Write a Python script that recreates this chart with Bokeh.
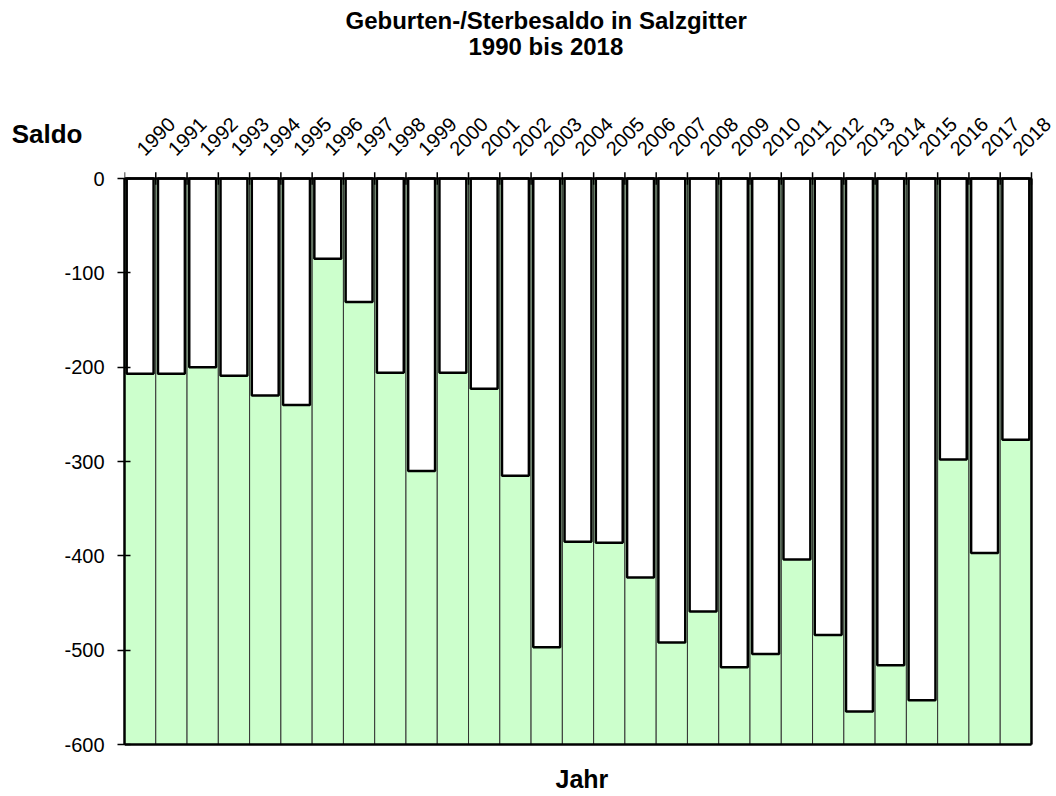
import math
from bokeh.plotting import figure
from bokeh.models import Range1d, FixedTicker, Title, LinearAxis
from bokeh.core.properties import value
from bokeh.embed import file_html
from bokeh.resources import INLINE

years = list(range(1990, 2019))
saldo = [-207, -207, -200, -209, -230, -240, -85, -131, -206, -310,
         -206, -223, -315, -497, -385, -386, -423, -492, -459, -518,
         -504, -404, -484, -565, -516, -553, -298, -397, -277]
y_ticks = [-600, -500, -400, -300, -200, -100, 0]
year_labels = [str(y) for y in years]

title_lines = ["Geburten-/Sterbesaldo in Salzgitter", "1990 bis 2018"]
y_title = "Saldo"
x_title = "Jahr"

FONT = "Liberation Sans"
GREEN = "#ccffcc"

y_lo, y_hi = min(y_ticks), max(y_ticks)
x_lo, x_hi = years[0] - 0.5, years[-1] + 0.5

# layout in pixels: value 0 at y=178, -600 at y=744, canvas 1056 x 796
H = 796
top_px, zero_px, low_px = 116, 178, 744
k = (low_px - zero_px) / (y_hi - y_lo)          # px per unit
y_max = y_hi + (zero_px - top_px) / k
y_min = y_hi - (H - zero_px) / k

p = figure(width=1056, height=H, output_backend="svg", toolbar_location=None,
           x_range=Range1d(x_lo, x_hi + 0.8),
           y_range=Range1d(y_min, y_max),
           x_axis_location=None,
           min_border_left=124, min_border_right=0,
           min_border_top=top_px, min_border_bottom=0)

p.background_fill_color = "white"
p.border_fill_color = "white"
p.outline_line_color = None
p.xgrid.visible = False
p.ygrid.visible = False
for g in p.grid:
    g.visible = False

# category cells (green with thin separators)
p.vbar(x=years, width=1, top=y_hi, bottom=y_lo, fill_color=GREEN,
       line_color="#333333", line_width=1)
# white bars from 0 down to the value
p.vbar(x=years, width=0.86, top=y_hi, bottom=saldo, fill_color="white",
       line_color="black", line_width=2.5)

# frame lines: top (0), bottom (-600), right
p.segment(x0=[x_lo, x_lo, x_hi], y0=[y_hi, y_lo, y_lo], x1=[x_hi, x_hi, x_hi], y1=[y_hi, y_lo, y_hi],
          line_color="black", line_width=2.5)
# tick marks at category boundaries on the top line
bounds_x = [y - 0.5 for y in years] + [x_hi]
p.segment(x0=bounds_x, y0=[y_hi - 6.5] * len(bounds_x), x1=bounds_x, y1=[y_hi + 6.5] * len(bounds_x),
          line_color="black", line_width=1.5)
# year labels
p.text(x=years, y=[y_hi + 28] * len(years), text=year_labels, angle=math.pi / 4,
       text_align="left", text_baseline="middle", text_font=value(FONT),
       text_font_size="20px", text_color="black")
# x title
p.text(x=[2004.125], y=[y_lo - 37], text=[x_title], text_align="center", text_baseline="middle",
       text_font=value(FONT), text_font_size="25px", text_font_style="bold", text_color="black")

# y axis
ya = p.yaxis[0]
ya.ticker = FixedTicker(ticks=y_ticks)
ya.bounds = (y_lo, y_hi)
ya.major_label_overrides = {t: str(t) for t in y_ticks}
ya.major_label_text_font = FONT
ya.major_label_text_font_size = "20px"
ya.major_label_text_color = "black"
ya.major_label_standoff = 13
ya.major_tick_out = 7
ya.major_tick_in = 6
ya.major_tick_line_color = "black"
ya.major_tick_line_width = 1.5
ya.axis_line_color = "black"
ya.axis_line_width = 2.5

# y title, placed as a single label on an outer left axis
saldo_pos = 47
ys = LinearAxis(ticker=FixedTicker(ticks=[saldo_pos]), major_label_overrides={saldo_pos: y_title},
                major_label_text_font=FONT, major_label_text_font_size="26px",
                major_label_text_font_style="bold", major_label_text_color="black",
                major_label_standoff=-21, major_tick_out=0, major_tick_in=0,
                major_tick_line_color=None, minor_tick_line_color=None, axis_line_color=None)
p.add_layout(ys, "left")

# spacer between frame and titles
spacer_pos = 2019.125
xt = LinearAxis(ticker=FixedTicker(ticks=[spacer_pos]), major_label_overrides={spacer_pos: ""},
                major_label_text_font_size="0px", major_label_standoff=0,
                major_tick_out=57, major_tick_in=0, major_tick_line_color=None,
                minor_tick_line_color=None, axis_line_color=None)
p.add_layout(xt, "above")

# titles
p.add_layout(Title(text=title_lines[1], align="left", offset=344, text_font=FONT,
                   text_font_size="24px", text_font_style="bold", text_color="black",
                   standoff=0), "above")
t1 = Title(text=title_lines[0], align="left", offset=221, text_font=FONT,
           text_font_size="24px", text_font_style="bold", text_color="black", standoff=0)
try:
    t1.standoff = -6
except Exception:
    t1.standoff = 0
p.add_layout(t1, "above")

open("out.html", "w").write(file_html(p, INLINE))
